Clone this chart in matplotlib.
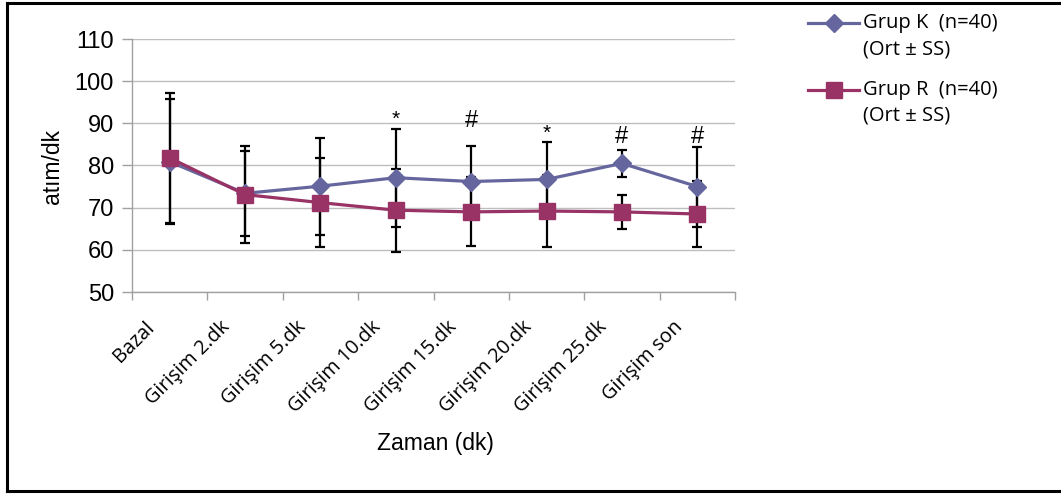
import matplotlib
matplotlib.use("Agg")
import matplotlib.pyplot as plt
from matplotlib.lines import Line2D
from matplotlib.transforms import ScaledTranslation, blended_transform_factory
import numpy as np

categories = ["Bazal", "Girişim 2.dk", "Girişim 5.dk", "Girişim 10.dk", "Girişim 15.dk",
              "Girişim 20.dk", "Girişim 25.dk", "Girişim son"]
k_mean = [80.9, 73.4, 75.1, 77.1, 76.2, 76.7, 80.5, 75.0]
k_sd = [14.8, 10.1, 11.5, 11.6, 8.4, 8.8, 3.2, 9.5]
r_mean = [81.8, 73.1, 71.2, 69.4, 69.0, 69.2, 69.0, 68.5]
r_sd = [15.5, 11.5, 10.6, 9.8, 8.2, 8.5, 4.0, 7.8]
k_label = "Grup K  (n=40)"
r_label = "Grup R  (n=40)"
sub_label = "(Ort ± SS)"
ann_idx = [3, 4, 5, 6, 7]
ann_txt = ["*", "#", "*", "#", "#"]
ann_y = [91.0, 90.5, 87.6, 86.7, 86.7]
yticks = [50, 60, 70, 80, 90, 100, 110]

K_COLOR = "#66669E"
R_COLOR = "#993366"

fig = plt.figure(figsize=(10.61, 4.94), dpi=100)
W, H = 1061, 494
ax = fig.add_axes([132 / W, 1 - 292 / H, (735 - 132) / W, (292 - 39) / H])

x = np.arange(len(categories))
eb_kw = dict(fmt="none", ecolor="black", elinewidth=1.6, capsize=3.8, capthick=1.6, zorder=2)
ax.errorbar(x, k_mean, yerr=k_sd, **eb_kw)
ax.errorbar(x, r_mean, yerr=r_sd, **eb_kw)
ax.plot(x, k_mean, color=K_COLOR, lw=2.3, marker="D", ms=9, mec=K_COLOR, mfc=K_COLOR, zorder=3)
ax.plot(x, r_mean, color=R_COLOR, lw=2.3, marker="s", ms=11.5, mec=R_COLOR, mfc=R_COLOR, zorder=4)

for i, t, yy in zip(ann_idx, ann_txt, ann_y):
    ax.text(x[i], yy, t, ha="center", va="center",
            fontsize=15 if t == "*" else 17, family="Liberation Sans")

ax.set_xlim(-0.5, len(categories) - 0.5)
ax.set_ylim(50, 110)
ax.set_yticks(yticks)
ax.set_yticklabels([str(v) for v in yticks], family="Liberation Sans", fontsize=17)
ax.yaxis.grid(True, color="#BEBEBE", lw=1)
ax.set_axisbelow(True)
ax.set_xticks(np.arange(len(categories) + 1) - 0.5)
ax.set_xticklabels([])
# category labels, rotated
trans = blended_transform_factory(ax.transData, ax.transAxes) + \
    ScaledTranslation(-0.25, -0.25, fig.dpi_scale_trans)
for xi, lab in zip(x, categories):
    ax.text(xi, 0, lab, transform=trans, rotation=45, ha="right", va="top",
            rotation_mode="anchor", family="Open Sans", fontsize=14.3, clip_on=False)
ax.tick_params(axis="x", which="major", length=6, color="#A0A0A0", width=1)
ax.tick_params(axis="y", length=7, color="#A0A0A0", width=1, pad=6)
for s in ["top", "right"]:
    ax.spines[s].set_visible(False)
for s in ["left", "bottom"]:
    ax.spines[s].set_color("#A0A0A0")
    ax.spines[s].set_linewidth(1)

fig.text(53 / W, 1 - 166 / H, "atım/dk", rotation=90, ha="center", va="center",
         family="Liberation Sans", fontsize=16.5)
fig.text(435 / W, 1 - 443 / H, "Zaman (dk)", ha="center", va="center",
         family="Liberation Sans", fontsize=16.5)

# legend (drawn manually to match layout)
def leg_entry(y_px, color, marker, ms, label):
    fig.add_artist(Line2D([808 / W, 859 / W], [1 - y_px / H] * 2, color=color, lw=2.3,
                          transform=fig.transFigure))
    fig.add_artist(Line2D([833.5 / W], [1 - y_px / H], color=color, marker=marker, ms=ms,
                          mfc=color, mec=color, transform=fig.transFigure))
    fig.text(863 / W, 1 - y_px / H, label, ha="left", va="center", family="Open Sans", fontsize=14.5)

leg_entry(23, K_COLOR, "D", 9, k_label)
fig.text(863 / W, 1 - 50 / H, sub_label, ha="left", va="center", family="Open Sans", fontsize=14.5)
leg_entry(90, R_COLOR, "s", 11, r_label)
fig.text(863 / W, 1 - 116 / H, sub_label, ha="left", va="center", family="Open Sans", fontsize=14.5)

# outer frame
for xs, ys in [([7 / W, 7 / W], [1 - 3 / H, 1 - 491 / H]),
               ([7 / W, 1.01], [1 - 3 / H, 1 - 3 / H]),
               ([7 / W, 1.01], [1 - 491 / H, 1 - 491 / H])]:
    fig.add_artist(Line2D(xs, ys, color="black", lw=2.2, transform=fig.transFigure))

fig.savefig("out.png", dpi=100)
